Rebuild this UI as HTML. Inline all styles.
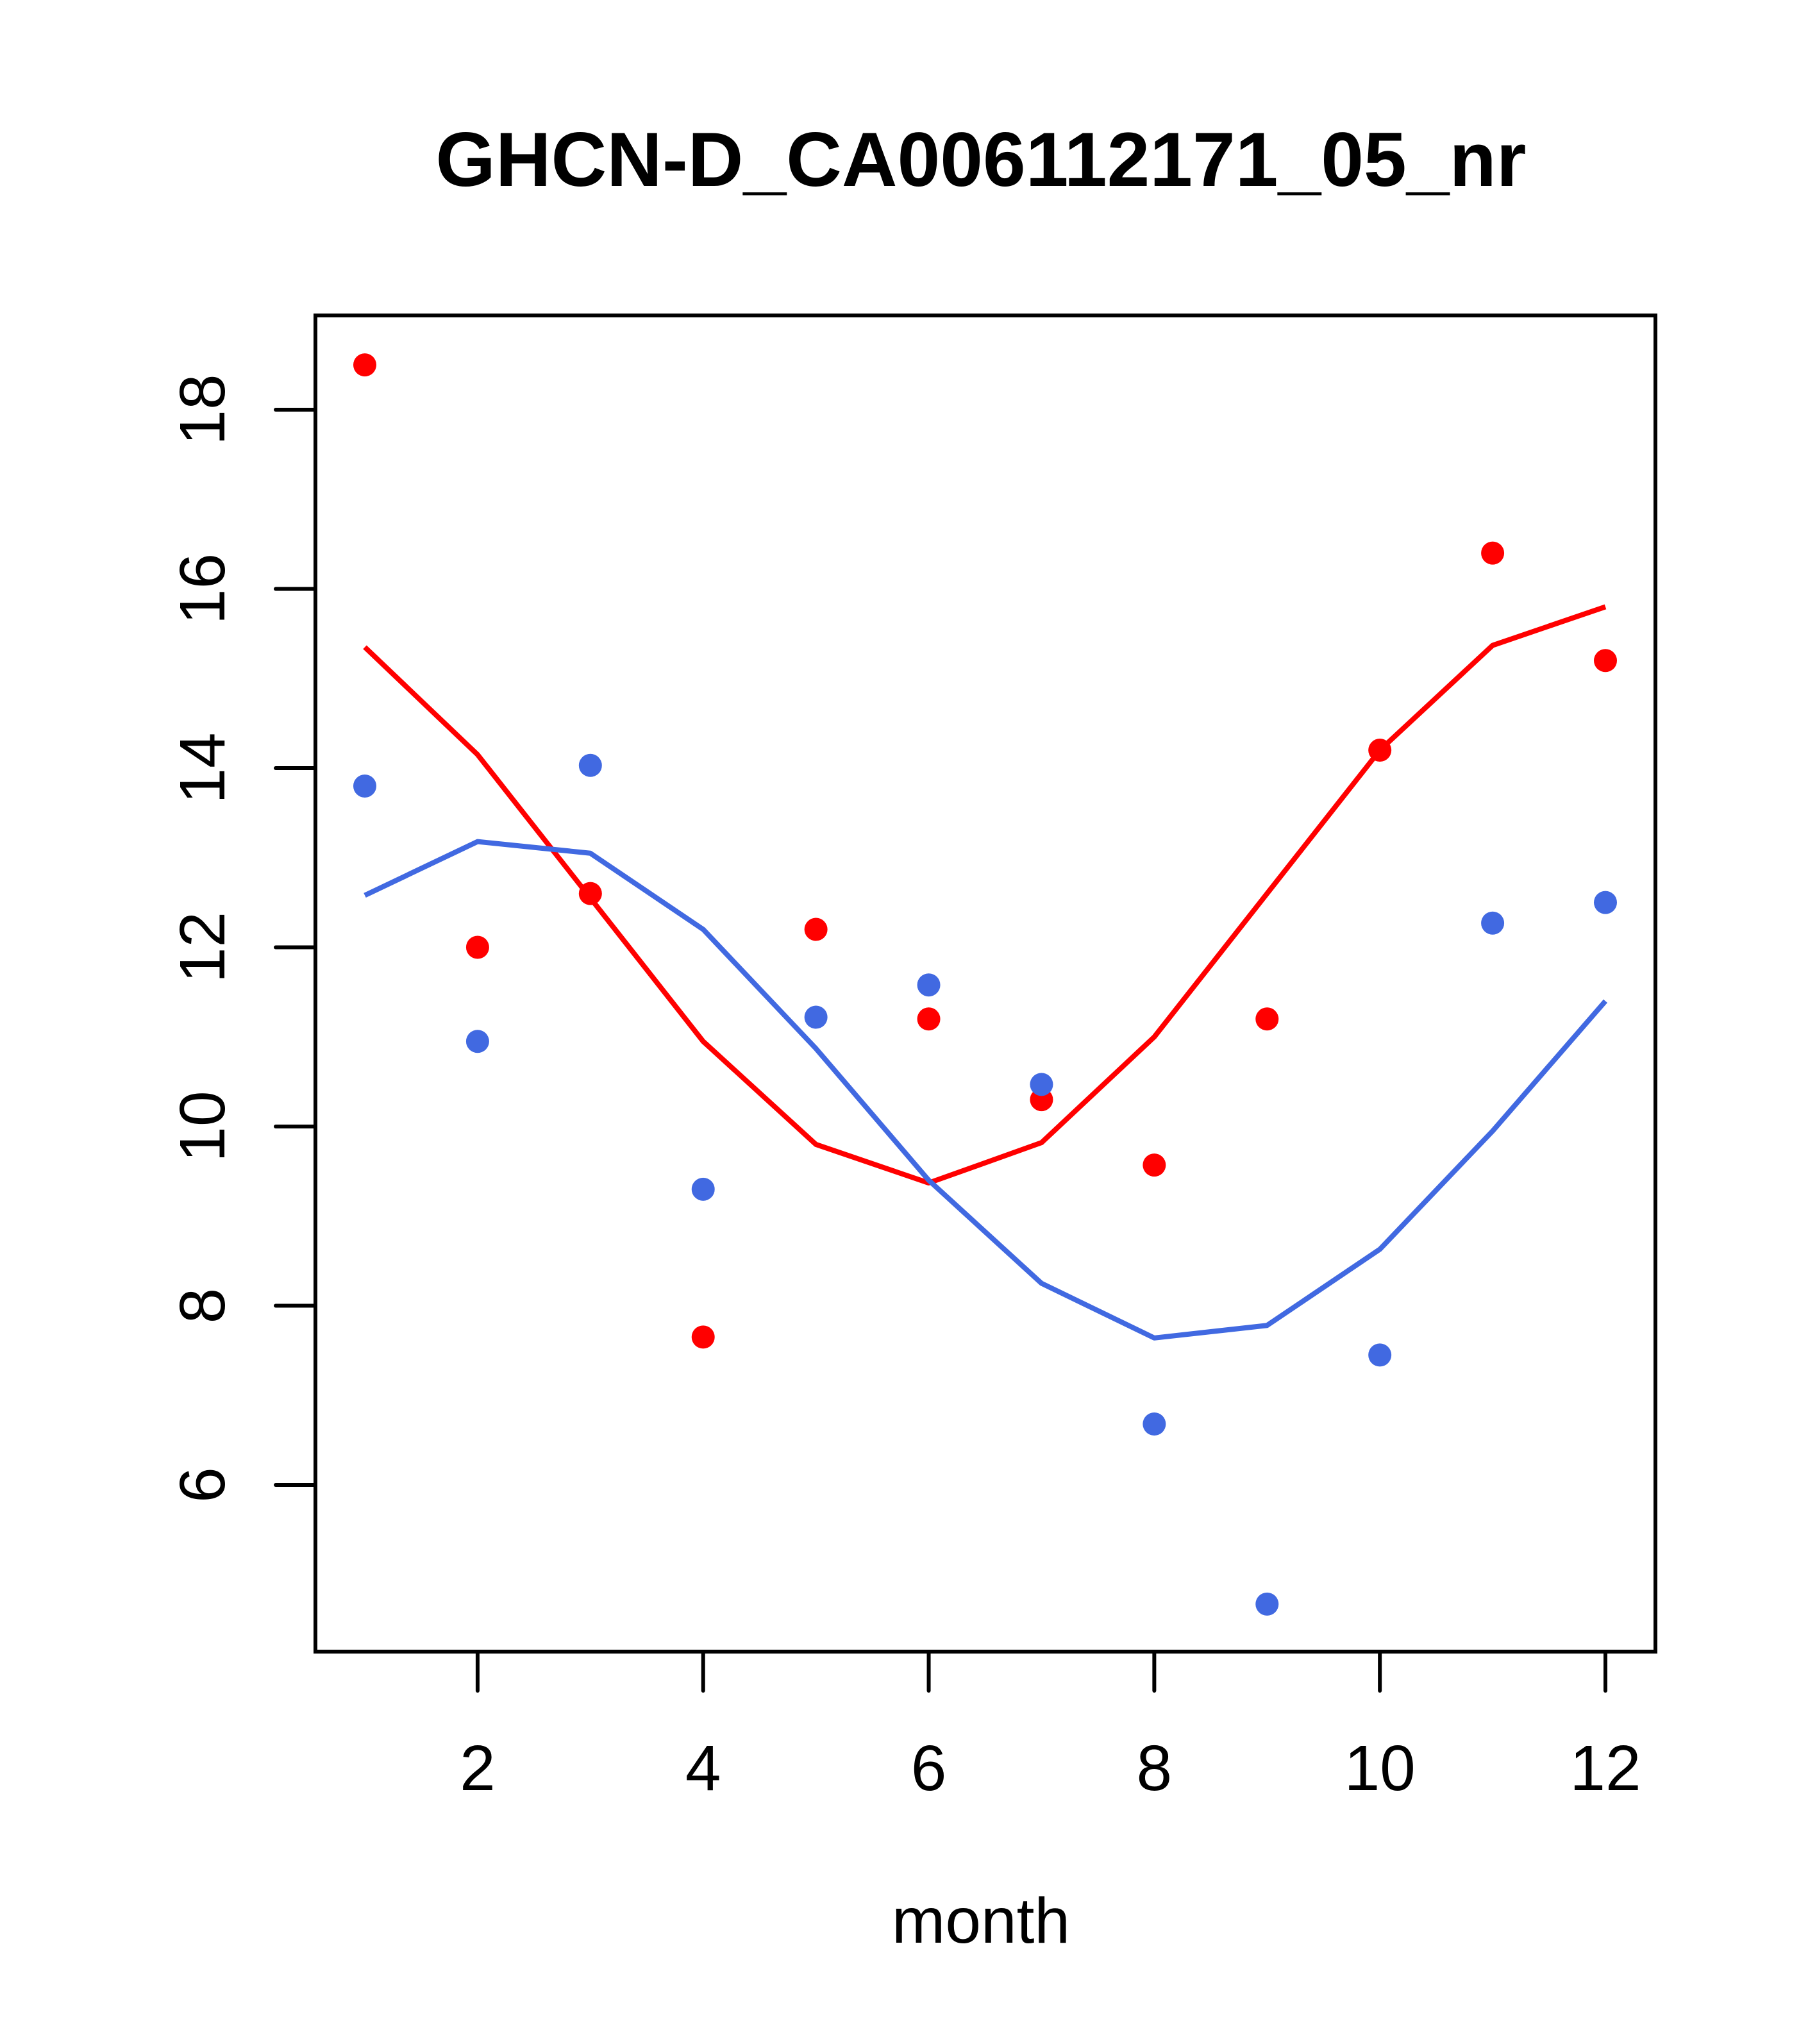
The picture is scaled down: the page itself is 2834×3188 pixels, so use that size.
<!DOCTYPE html>
<html><head><meta charset="utf-8"><style>
html,body{margin:0;padding:0;background:#fff;}
svg{display:block;font-family:"Liberation Sans",Arial,sans-serif;}
</style></head><body>
<svg id="chart" width="2834" height="3188" viewBox="0 0 2834 3188">
<rect width="2834" height="3188" fill="#fff"/>
<text x="1530" y="290" text-anchor="middle" font-size="120" font-weight="bold">GHCN-D_CA006112171_05_nr</text>
<rect x="492" y="492" width="2090" height="2084" fill="none" stroke="#000" stroke-width="6"/>
<g id="xaxis"></g>
<g id="yaxis"></g>
<g id="series"></g>
<text x="1530" y="3030" text-anchor="middle" font-size="100">month</text>
</svg>
<script>
const months = [1,2,3,4,5,6,7,8,9,10,11,12];
const redPoints = [18.5,12.0,12.6,7.65,12.2,11.2,10.3,9.57,11.2,14.2,16.4,15.2];
const redLine = [15.35,14.15,12.55,10.95,9.8,9.37,9.82,11.0,12.6,14.2,15.37,15.8];
const bluePoints = [13.8,10.95,14.03,9.3,11.22,11.58,10.47,6.68,4.67,7.45,12.27,12.5];
const blueLine = [12.58,13.18,13.05,12.2,10.87,9.4,8.25,7.64,7.78,8.63,9.95,11.4];
const xTicks = [2,4,6,8,10,12];
const yTicks = [6,8,10,12,14,16,18];

const NS = "http://www.w3.org/2000/svg";
function xs(m){ return 569 + (m-1)*(2504-569)/11; }
function ys(v){ return 639 + (18-v)*(2316-639)/12; }
function mk(tag, attrs, parent){
  const e = document.createElementNS(NS, tag);
  for (const k in attrs) e.setAttribute(k, attrs[k]);
  parent.appendChild(e);
  return e;
}
const xa = document.getElementById('xaxis');
const ya = document.getElementById('yaxis');
const sr = document.getElementById('series');

for (const t of xTicks){
  const l = mk('line', {x1:xs(t), x2:xs(t), y1:2576, y2:2637, stroke:'#000','stroke-width':6,'stroke-linecap':'round'}, xa);
  
  
  const tx = mk('text', {x:xs(t), y:2792, 'text-anchor':'middle','font-size':100}, xa);
  tx.textContent = t;
  
  
}
for (const t of yTicks){
  const l = mk('line', {x1:430, x2:492, y1:ys(t), y2:ys(t), stroke:'#000','stroke-width':6,'stroke-linecap':'round'}, ya);
  
  
  const tx = mk('text', {x:0, y:0, 'text-anchor':'middle','font-size':100, transform:`translate(350,${ys(t)}) rotate(-90)`}, ya);
  tx.textContent = t;
  
  
}
function drawLine(vals, color, name){
  const p = mk('polyline', {points: vals.map((v,i)=>xs(months[i])+','+ys(v)).join(' '), fill:'none', stroke:color, 'stroke-width':8, 'stroke-linejoin':'round'}, sr);
  
  
}
function drawPts(vals, color, name){
  vals.forEach((v,i)=>{
    const c = mk('circle', {cx:xs(months[i]), cy:ys(v), r:18, fill:color}, sr);
    
    
  });
}
drawLine(redLine, '#ff0000', 'red-fit-line');
drawLine(blueLine, '#4169e1', 'blue-fit-line');
drawPts(redPoints, '#ff0000', 'red-point');
drawPts(bluePoints, '#4169e1', 'blue-point');
</script>
</body></html>
